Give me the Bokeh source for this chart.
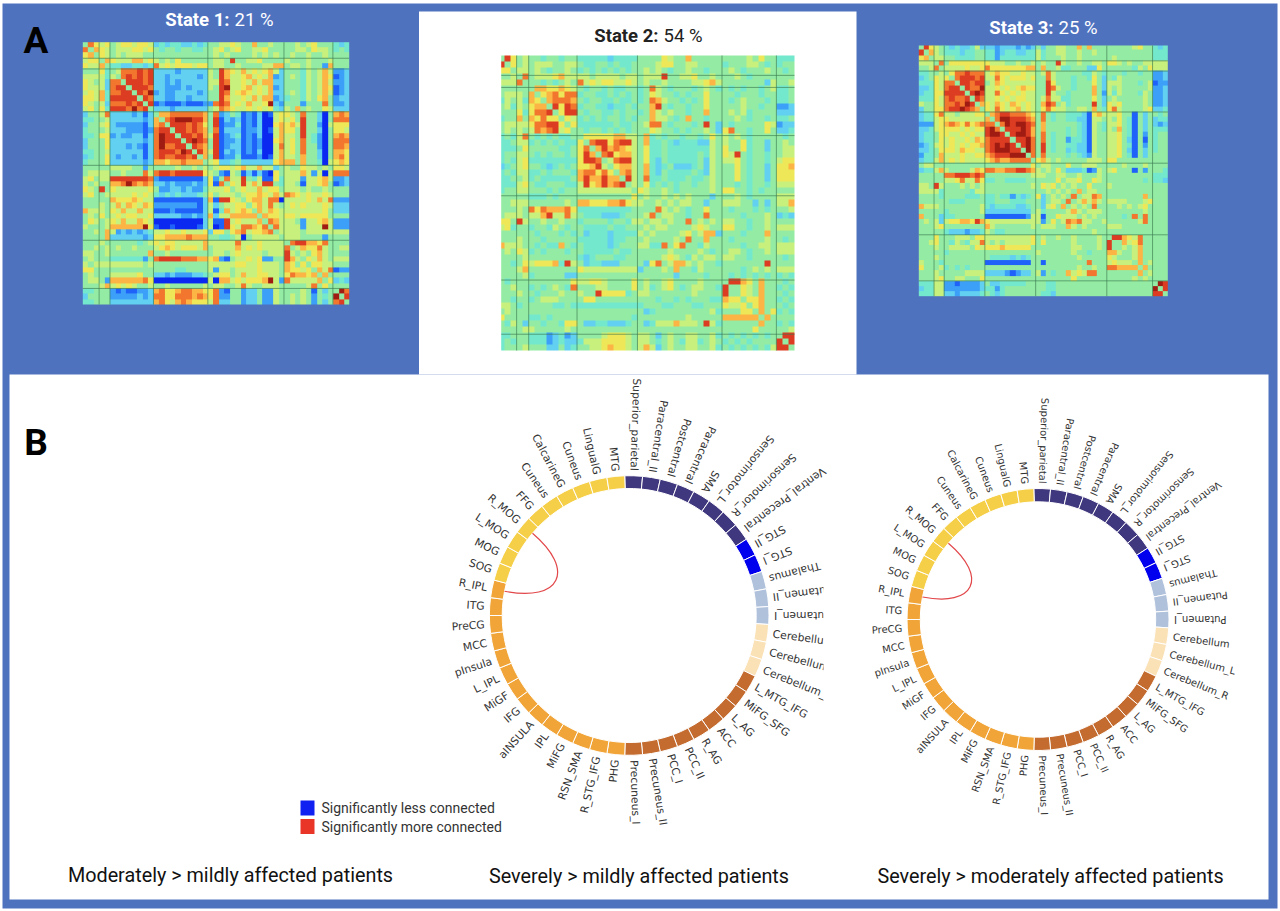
import numpy as np
from bokeh.plotting import figure
from bokeh.models import LinearColorMapper, Range1d
from bokeh.core.properties import value
from bokeh.embed import file_html
from bokeh.resources import INLINE

# --- Regions (clockwise from the top of each ring) ---
regions = ["Superior_parietal","Paracentral_II","Postcentral","Paracentral","SMA","Sensorimotor_L","Sensorimotor_R","Ventral_Precentral",
           "STG_II","STG_I","Thalamus","Putamen_II","Putamen_I","Cerebellum","Cerebellum_L","Cerebellum_R",
           "L_MTG_IFG","MiFG_SFG","L_AG","ACC","R_AG","PCC_II","PCC_I","Precuneus_II","Precuneus_I",
           "PHG","R_STG_IFG","RSN_SMA","MiFG","IPL","aINSULA","IFG","MiGF","L_IPL","pInsula","MCC","PreCG","ITG","R_IPL",
           "SOG","MOG","L_MOG","R_MOG","FFG","Cuneus","CalcarineG","Cuneus","LingualG","MTG"]
region_groups = [(8,"#40387f"),(2,"#0000ee"),(3,"#b0c1dc"),(3,"#fbe1b6"),(9,"#c46c30"),(14,"#f1a538"),(10,"#f6cf48")]
connections = [("R_IPL","R_MOG")]

# --- Connectivity matrices: upper triangle, colour levels 0 (deep blue) to b (dark red) ---
group_sizes = [3,2,8,10,14,9,3]
level_colors = ["#0a28f0","#1f62fa","#3c9ff8","#62d0f0","#74e8cc","#94eca4","#c8f07c","#eee858","#fcb444","#f2762e","#dc3c22","#a01c12"]

state1 = [
"597 67 56776776 3434433434 55667655855655 556567555 434",
"58 76 56667767 5455455445 56756755667555 556657665 454",
"5 76 56566655 5555555555 56565555656565 565565565 555",
"58 76668867 6565755555 5665a556675555 655565556 555",
"5 44334434 9676777677 56655655556688 566565528 555",
"56999a9a 3333233333 65a87686767863 555465686 223",
"59a9a9a 3323333323 65a86678676823 565465687 123",
"5aaa9a 3323233333 66a96676868833 555465686 223",
"5aaa9 3322232333 65ab6678676823 555465687 123",
"5a9b 2322333323 55a96787676833 565465686 123",
"5a9 3322332333 55a86676868823 455465785 233",
"5a 1211121112 29a967686 67b32 555255595 223",
"5 3332333333 56987667676743 658565576 333",
"5889999998 59235412130167 765955305 898",
"59abbbaa8 5a132312130067 675a55305 999",
"5aaa9a97 5a122412130078 786a55206 777",
"5aa9a98 59133312230168 775a55305 776",
"5aa9a8 6a123412130068 665a54205 898",
"5aba9 5a122312120078 675954205 999",
"5a98 5a123312120069 675955205 998",
"5a8 6a132312130068 675955305 887",
"58 5a122411120168 665855305 897",
"5 67334533333378 885855406 787",
"56776786686635 655766565 776",
"5216513131 075 666862606 999",
"5966a54611 74 666266786 223",
"576a686aa54 665166785 123",
"5676686775 666565565 555",
"567787686 987676676 555",
"57886990 666676869 222",
"5786965 676766676 333",
"586876 666666675 333",
"58776 776777775 555",
"5986 665266786 222",
"596 666266 6b6 222",
"56 666566666 666",
"5 666555525 555",
"59aa88795 555",
"56877965 566",
"5657865 555",
"576865 666",
"57766 555",
"5869 122",
"585 555",
"57 343",
"5 555",
"5b9","5a","5",
]

state2 = [
"5a7 56 55455455 4444434444 55557655855555 555565755 444",
"57 56 56665566 5445545445 55567755665555 455566545 455",
"5 66 56545565 4545454545 56565455655455 565455565 545",
"59 56667866 6656666566 5666a556675565 556545555 555",
"5 55454565 9676776676 56556555566786 555555536 556",
"58877876 5455454455 45965455545654 545455456 445",
"5789799 4554454545 45765545455755 554555455 445",
"589998 5455445445 45986554545755 545655545 445",
"5a7a9 4554434454 558a5455455755 555655455 223",
"57aa 5455445455 45865655455855 565645555 333",
"576 4545455454 55866545855455 556545545 445",
"57 4444445445 56995455545a53 545555576 233",
"5 5455454545 55765545455653 795545575 334",
"5777778866 58454554554575 656545555 545",
"59aa79aa6 58445434443365 655745535 565",
"58a89876 57445444444465 755745535 566",
"59a7886 57445444445465 76a545545 566",
"569aa6 57435444445365 667545545 677",
"57886 58434533345365 557545535 778",
"5896 58435444454365 557545535 777",
"5a6 59445444544565 557545535 777",
"56 57454545545565 554545545 666",
"5 76556545555565 775545455 555",
"56556565655535 556545555 666",
"5565656655355 666553535 668",
"596565455755 545554545 556",
"56655455955 555455565 343",
"5655956565 665545565 555",
"555567655 775545565 666",
"56756883 555455585 555",
"5955855 545555565 545",
"554655 555455665 666",
"56545 566545565 666",
"5665 665545555 545",
"554 5555555a5 555",
"55 555456565 666",
"5 545454545 454",
"5aa875855 545",
"55765855 454",
"5765855 545",
"577855 454",
"57855 545",
"5857 454",
"585 555",
"55 454",
"5 556",
"5aa","5a","5",
]

state3 = [
"5a7 65 43433463 3323332323 53556655858555 555556755 434",
"58 65 44434455 4423443344 64556655655655 555555555 444",
"5 66 55444455 4424444444 64555655655555 565555555 444",
"59 57777777 7666556556 5655a655655665 776565566 666",
"5 66667667 9777777788 58556445553375 555554657 666",
"5799a999 6787766766 56965555544654 555455455 223",
"59aaa9a 6697677767 55965554554753 546555555 223",
"5aa9aa 5687666666 55a75554555753 666555456 122",
"5a99b 6676767877 55a96554555853 656555556 223",
"5aba 6697676766 55a65545555852 646555465 223",
"5a9 6676767766 56966445555753 565555565 223",
"58 7687687676 58a95645555a53 767555565 223",
"5 7697678676 57976655665854 796555567 334",
"589aa99987 59545544431786 667551535 545",
"59bbaaa98 59545544331665 657541535 344",
"59babba9 58555555431654 667541535 323",
"5aaaba8 58555545431654 658541535 444",
"5abba8 59545545431655 667541525 455",
"5aab9 59545524431655 667531515 455",
"5ab9 5a545544331655 667541525 455",
"5b9 5a545534331655 667531535 455",
"59 59555545432655 667541535 555",
"5 78656555556665 775555555 555",
"56655575566655 555655565 555",
"5657533341265 675551525 554",
"556655655565 555555555 444",
"57566755765 555555545 443",
"5656557555 655555555 555",
"565856655 555555555 555",
"59566985 555555585 555",
"5686865 666655567 555",
"565955 556565675 555",
"56665 555555565 555",
"5655 555459595 555",
"556 555555695 555",
"55 666555555 555",
"5 555555555 555",
"5aa876955 555",
"55867955 555",
"5656855 555",
"556855 555",
"56855 555",
"5856 555",
"585 555",
"56 555",
"5 555",
"5ba","5a","5",
]

def to_matrix(rows):
    n = sum(group_sizes)
    m = np.full((n, n), 5.0)
    for i, row in enumerate(rows):
        vals = [int(c, 16) for c in row.replace(" ", "")]
        for k, v in enumerate(vals[: n - i]):
            m[i, i + k] = v
            m[i + k, i] = v
    return m

BLUE = "#4f72bf"
W, H = 1280, 911
p = figure(width=W, height=H, x_range=Range1d(0, 1280), y_range=Range1d(-911, 0),
           output_backend="svg", toolbar_location=None, min_border=0, outline_line_color=None,
           background_fill_color="white", border_fill_color="white")
p.xaxis.visible = False
p.yaxis.visible = False
p.grid.visible = False

# frame panels
p.quad(left=[2], right=[1277], top=[-3], bottom=[-908], fill_color=BLUE, line_color=None)
p.quad(left=[418.5], right=[856], top=[-11], bottom=[-374], fill_color="white", line_color=None)
p.quad(left=[9], right=[1268], top=[-374], bottom=[-899], fill_color="white", line_color=None)

mapper = LinearColorMapper(palette=level_colors, low=-0.5, high=11.5)
edges = np.cumsum(group_sizes)[:-1]

def heat(rows, x0, y0, w, h, ldx=0.0, ldy=0.0):
    m = to_matrix(rows)
    n = m.shape[0]
    p.image(image=[m[::-1]], x=x0, y=-(y0 + h), dw=w, dh=h, color_mapper=mapper)
    cw, ch = w / n, h / n
    xs = [[x0 + (e + ldx) * cw] * 2 for e in edges]
    ys = [[-y0, -(y0 + h)] for e in edges]
    p.multi_line(xs, ys, line_color="#3a7a50", line_width=1, line_alpha=0.65)
    xs = [[x0, x0 + w] for e in edges]
    ys = [[-(y0 + (e + ldy) * ch)] * 2 for e in edges]
    p.multi_line(xs, ys, line_color="#3a7a50", line_width=1, line_alpha=0.65)

heat(state1, 82.3, 41.7, 266.4, 262.3)
heat(state2, 498.0, 55.0, 296.0, 295.0, 0.0, 0.3)
p.quad(left=[490], right=[500.7], top=[-50], bottom=[-355], fill_color="white", line_color=None)
heat(state3, 918.3, 45.0, 249.0, 250.7)

def title(x, y, bold, rest, color):
    p.text([x], [-y], text=[bold], text_font=value("Roboto"), text_font_size="18.5px", text_font_style="bold",
           text_color=color, text_align="right", text_baseline="middle")
    p.text([x + 5], [-y], text=[rest], text_font=value("Roboto"), text_font_size="18.5px",
           text_color=color, text_align="left", text_baseline="middle")

title(229, 19, "State 1:", "21 %", "white")
title(658, 35, "State 2:", "54 %", "#222222")
title(1053, 27, "State 3:", "25 %", "white")

for t, y in (("A", 40), ("B", 441.5)):
    p.text([35.5], [-y], text=[t], text_font=value("Roboto"), text_font_size="37px", text_font_style="bold",
           text_color="black", text_align="center", text_baseline="middle")

def ring(cx, cy, r0, r1, fs):
    n = len(regions)
    step = 2 * np.pi / n
    th0 = -step / 4
    colors = [c for k, c in region_groups for _ in range(k)]
    th = th0 + step * np.arange(n)
    # clockwise from top -> math angle
    start = np.pi / 2 - (th + step)
    end = np.pi / 2 - th
    p.annular_wedge(x=[cx] * n, y=[-cy] * n, inner_radius=r0, outer_radius=r1,
                    start_angle=start, end_angle=end, fill_color=colors,
                    line_color="white", line_width=1.0)
    mid = th + step / 2
    lab_r = r1 + 5
    lx = cx + lab_r * np.sin(mid)
    ly = -(cy - lab_r * np.cos(mid))
    for i in range(n):
        s, c = np.sin(mid[i]), np.cos(mid[i])
        if 13 <= i <= 24:
            ang, al = np.arctan2(c, s), "left"
        else:
            ang, al = np.arctan2(-c, -s), "right"
        p.text([lx[i]], [ly[i]], text=[regions[i]], angle=ang, text_align=al, text_baseline="middle",
               text_font=value("DejaVu Sans"), text_font_size=fs, text_color="#333333")
    for a, b in connections:
        ia, ib = regions.index(a), regions.index(b)
        rc = r0 * 0.55
        def pt(i, r):
            return cx + r * np.sin(mid[i]), -(cy - r * np.cos(mid[i]))
        x0, y0 = pt(ia, r0)
        x1, y1 = pt(ib, r0)
        c0x, c0y = pt(ia, rc)
        c1x, c1y = pt(ib, rc)
        p.bezier(x0=[x0], y0=[y0], x1=[x1], y1=[y1], cx0=[c0x], cy0=[c0y], cx1=[c1x], cy1=[c1y],
                 line_color="#e2474a", line_width=1.2)

ring(628.7, 615, 127, 139.8, "10.8px")
p.quad(left=[823], right=[856], top=[-560], bottom=[-710], fill_color="white", line_color=None)
ring(1037.5, 619, 117.7, 131, "10px")

# legend
legend_labels = ["Significantly less connected", "Significantly more connected"]
legend_colors = ["#1020f0", "#e83528"]
legend_y = [807.5, 826]
for lab, col, y in zip(legend_labels, legend_colors, legend_y):
    p.rect([307], [-y], width=14, height=15, fill_color=col, line_color=None)
    p.text([321], [-y], text=[lab], text_font=value("Roboto"), text_font_size="14px", text_color="#333333",
           text_baseline="middle")

captions = ["Moderately > mildly affected patients", "Severely > mildly affected patients", "Severely > moderately affected patients"]
cap_x = [230, 638.5, 1050]
cap_y = [875, 876, 876]
p.text(cap_x, [-y for y in cap_y], text=captions, text_font=value("Roboto"), text_font_size="19.8px",
       text_color="#111111", text_align="center", text_baseline="middle")

open("out.html", "w").write(file_html(p, INLINE))
